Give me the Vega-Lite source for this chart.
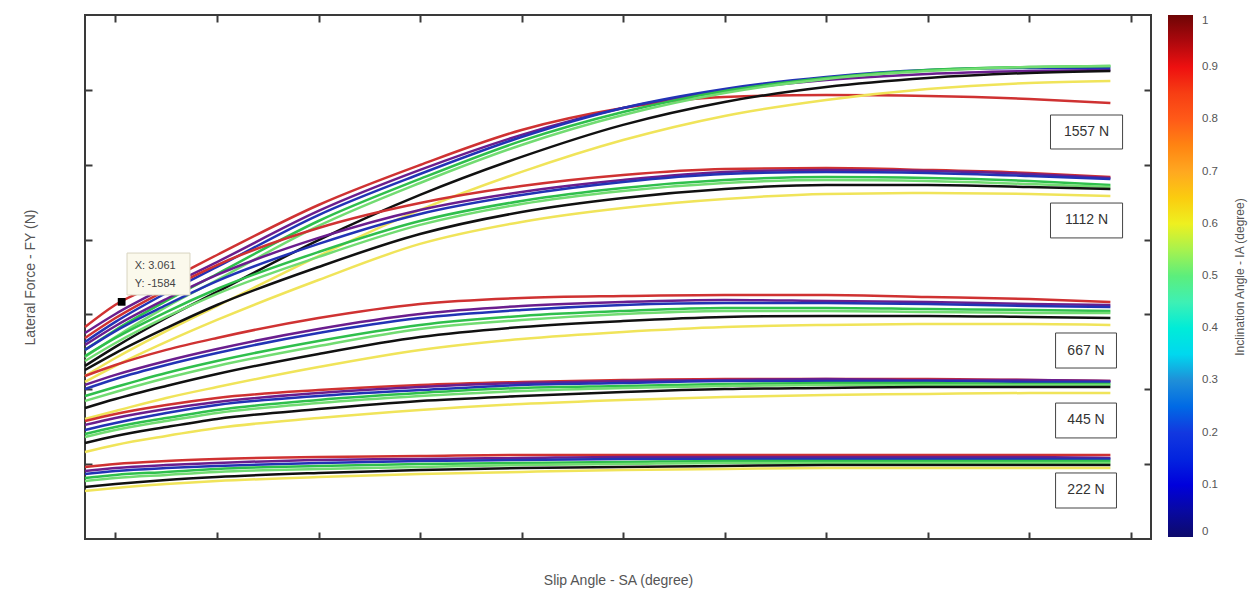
{
  "$schema": "https://vega.github.io/schema/vega-lite/v6.json",
  "width": 1066,
  "height": 524,
  "autosize": {"type": "none"},
  "padding": {"left": 85, "top": 15, "right": 99, "bottom": 51},
  "background": "white",
  "config": {
    "font": "Liberation Sans",
    "view": {"stroke": "#3a3a3a", "strokeWidth": 2},
    "axis": {
      "labels": false,
      "domain": false,
      "grid": false,
      "ticks": true,
      "tickSize": -7,
      "tickWidth": 2,
      "tickColor": "#3a3a3a",
      "titleFont": "Liberation Sans",
      "titleFontSize": 14,
      "titleFontWeight": "normal",
      "titleColor": "#555555"
    }
  },
  "datasets": {
    "curves": [
      {"load": 1557, "sa": 2.7, "red": -1416, "purple": -1376, "blue": -1316, "green1": -1263, "green2": -1216, "black": -1156, "yellow": -1089},
      {"load": 1557, "sa": 3, "red": -1565, "purple": -1503, "blue": -1450, "green1": -1396, "green2": -1349, "black": -1283, "yellow": -1209},
      {"load": 1557, "sa": 3.5, "red": -1723, "purple": -1683, "blue": -1643, "green1": -1590, "green2": -1550, "black": -1476, "yellow": -1389},
      {"load": 1557, "sa": 4, "red": -1897, "purple": -1850, "blue": -1817, "green1": -1770, "green2": -1730, "black": -1650, "yellow": -1556},
      {"load": 1557, "sa": 5, "red": -2231, "purple": -2191, "blue": -2164, "green1": -2124, "green2": -2091, "black": -1997, "yellow": -1890},
      {"load": 1557, "sa": 6, "red": -2498, "purple": -2465, "blue": -2438, "green1": -2405, "green2": -2378, "black": -2298, "yellow": -2198},
      {"load": 1557, "sa": 7, "red": -2732, "purple": -2699, "blue": -2685, "green1": -2659, "green2": -2632, "black": -2552, "yellow": -2452},
      {"load": 1557, "sa": 8, "red": -2879, "purple": -2879, "blue": -2879, "green1": -2852, "green2": -2832, "black": -2766, "yellow": -2665},
      {"load": 1557, "sa": 9, "red": -2953, "purple": -2993, "blue": -3006, "green1": -2993, "green2": -2979, "black": -2919, "yellow": -2826},
      {"load": 1557, "sa": 10, "red": -2966, "purple": -3066, "blue": -3086, "green1": -3079, "green2": -3073, "black": -3019, "yellow": -2933},
      {"load": 1557, "sa": 11, "red": -2959, "purple": -3106, "blue": -3133, "green1": -3133, "green2": -3126, "black": -3079, "yellow": -3006},
      {"load": 1557, "sa": 12, "red": -2939, "purple": -3126, "blue": -3146, "green1": -3153, "green2": -3153, "black": -3113, "yellow": -3046},
      {"load": 1557, "sa": 12.8, "red": -2912, "purple": -3133, "blue": -3146, "green1": -3160, "green2": -3160, "black": -3126, "yellow": -3059},

      {"load": 1112, "sa": 2.7, "red": -1343, "purple": -1296, "blue": -1263, "green1": -1222, "green2": -1189, "black": -1129, "yellow": -1049},
      {"load": 1112, "sa": 3, "red": -1476, "purple": -1423, "blue": -1389, "green1": -1343, "green2": -1309, "black": -1242, "yellow": -1156},
      {"load": 1112, "sa": 3.5, "red": -1663, "purple": -1603, "blue": -1563, "green1": -1516, "green2": -1483, "black": -1409, "yellow": -1316},
      {"load": 1112, "sa": 4, "red": -1830, "purple": -1764, "blue": -1723, "green1": -1670, "green2": -1637, "black": -1563, "yellow": -1463},
      {"load": 1112, "sa": 5, "red": -2077, "purple": -2011, "blue": -1971, "green1": -1917, "green2": -1884, "black": -1817, "yellow": -1730},
      {"load": 1112, "sa": 6, "red": -2244, "purple": -2198, "blue": -2171, "green1": -2124, "green2": -2098, "black": -2037, "yellow": -1971},
      {"load": 1112, "sa": 7, "red": -2358, "purple": -2318, "blue": -2298, "green1": -2258, "green2": -2238, "black": -2184, "yellow": -2118},
      {"load": 1112, "sa": 8, "red": -2432, "purple": -2398, "blue": -2385, "green1": -2345, "green2": -2325, "black": -2278, "yellow": -2211},
      {"load": 1112, "sa": 9, "red": -2472, "purple": -2452, "blue": -2438, "green1": -2398, "green2": -2378, "black": -2338, "yellow": -2271},
      {"load": 1112, "sa": 10, "red": -2478, "purple": -2465, "blue": -2452, "green1": -2418, "green2": -2398, "black": -2365, "yellow": -2305},
      {"load": 1112, "sa": 11, "red": -2465, "purple": -2458, "blue": -2445, "green1": -2411, "green2": -2391, "black": -2365, "yellow": -2311},
      {"load": 1112, "sa": 12, "red": -2445, "purple": -2438, "blue": -2425, "green1": -2391, "green2": -2371, "black": -2351, "yellow": -2305},
      {"load": 1112, "sa": 12.8, "red": -2418, "purple": -2411, "blue": -2405, "green1": -2365, "green2": -2351, "black": -2338, "yellow": -2291},

      {"load": 667, "sa": 2.7, "red": -1089, "purple": -1029, "blue": -1002, "green1": -955, "green2": -922, "black": -875, "yellow": -802},
      {"load": 667, "sa": 3, "red": -1162, "purple": -1096, "blue": -1069, "green1": -1015, "green2": -982, "black": -935, "yellow": -855},
      {"load": 667, "sa": 3.5, "red": -1263, "purple": -1189, "blue": -1162, "green1": -1109, "green2": -1075, "black": -1022, "yellow": -942},
      {"load": 667, "sa": 4, "red": -1343, "purple": -1269, "blue": -1242, "green1": -1189, "green2": -1156, "black": -1102, "yellow": -1015},
      {"load": 667, "sa": 5, "red": -1476, "purple": -1403, "blue": -1376, "green1": -1323, "green2": -1289, "black": -1236, "yellow": -1149},
      {"load": 667, "sa": 6, "red": -1570, "purple": -1503, "blue": -1476, "green1": -1430, "green2": -1403, "black": -1349, "yellow": -1263},
      {"load": 667, "sa": 7, "red": -1610, "purple": -1556, "blue": -1530, "green1": -1490, "green2": -1463, "black": -1416, "yellow": -1336},
      {"load": 667, "sa": 8, "red": -1623, "purple": -1583, "blue": -1563, "green1": -1523, "green2": -1503, "black": -1456, "yellow": -1383},
      {"load": 667, "sa": 9, "red": -1630, "purple": -1597, "blue": -1576, "green1": -1543, "green2": -1523, "black": -1483, "yellow": -1416},
      {"load": 667, "sa": 10, "red": -1630, "purple": -1590, "blue": -1576, "green1": -1543, "green2": -1523, "black": -1490, "yellow": -1430},
      {"load": 667, "sa": 11, "red": -1617, "purple": -1583, "blue": -1570, "green1": -1536, "green2": -1516, "black": -1490, "yellow": -1436},
      {"load": 667, "sa": 12, "red": -1603, "purple": -1570, "blue": -1556, "green1": -1530, "green2": -1510, "black": -1483, "yellow": -1436},
      {"load": 667, "sa": 12.8, "red": -1583, "purple": -1563, "blue": -1550, "green1": -1523, "green2": -1510, "black": -1476, "yellow": -1430},

      {"load": 445, "sa": 2.7, "red": -788, "purple": -762, "blue": -728, "green1": -701, "green2": -681, "black": -641, "yellow": -581},
      {"load": 445, "sa": 3, "red": -835, "purple": -808, "blue": -775, "green1": -748, "green2": -728, "black": -688, "yellow": -628},
      {"load": 445, "sa": 3.5, "red": -895, "purple": -868, "blue": -842, "green1": -808, "green2": -788, "black": -748, "yellow": -688},
      {"load": 445, "sa": 4, "red": -942, "purple": -915, "blue": -895, "green1": -862, "green2": -842, "black": -802, "yellow": -741},
      {"load": 445, "sa": 5, "red": -995, "purple": -975, "blue": -955, "green1": -929, "green2": -908, "black": -868, "yellow": -808},
      {"load": 445, "sa": 6, "red": -1029, "purple": -1015, "blue": -995, "green1": -975, "green2": -955, "black": -922, "yellow": -862},
      {"load": 445, "sa": 7, "red": -1049, "purple": -1042, "blue": -1029, "green1": -1009, "green2": -989, "black": -955, "yellow": -902},
      {"load": 445, "sa": 8, "red": -1062, "purple": -1055, "blue": -1042, "green1": -1022, "green2": -1009, "black": -982, "yellow": -929},
      {"load": 445, "sa": 9, "red": -1069, "purple": -1062, "blue": -1055, "green1": -1035, "green2": -1022, "black": -1002, "yellow": -949},
      {"load": 445, "sa": 10, "red": -1069, "purple": -1069, "blue": -1055, "green1": -1042, "green2": -1029, "black": -1009, "yellow": -962},
      {"load": 445, "sa": 11, "red": -1069, "purple": -1062, "blue": -1055, "green1": -1042, "green2": -1029, "black": -1015, "yellow": -969},
      {"load": 445, "sa": 12, "red": -1062, "purple": -1062, "blue": -1049, "green1": -1035, "green2": -1029, "black": -1015, "yellow": -975},
      {"load": 445, "sa": 12.8, "red": -1055, "purple": -1055, "blue": -1049, "green1": -1035, "green2": -1029, "black": -1015, "yellow": -975},

      {"load": 222, "sa": 2.7, "red": -481, "purple": -454, "blue": -434, "green1": -407, "green2": -387, "black": -347, "yellow": -321},
      {"load": 222, "sa": 3, "red": -501, "purple": -474, "blue": -454, "green1": -428, "green2": -407, "black": -367, "yellow": -341},
      {"load": 222, "sa": 3.5, "red": -521, "purple": -494, "blue": -474, "green1": -448, "green2": -428, "black": -394, "yellow": -367},
      {"load": 222, "sa": 4, "red": -534, "purple": -508, "blue": -488, "green1": -468, "green2": -448, "black": -414, "yellow": -387},
      {"load": 222, "sa": 5, "red": -548, "purple": -528, "blue": -508, "green1": -488, "green2": -468, "black": -441, "yellow": -414},
      {"load": 222, "sa": 6, "red": -554, "purple": -534, "blue": -521, "green1": -501, "green2": -481, "black": -461, "yellow": -434},
      {"load": 222, "sa": 7, "red": -561, "purple": -541, "blue": -528, "green1": -508, "green2": -494, "black": -474, "yellow": -448},
      {"load": 222, "sa": 8, "red": -561, "purple": -548, "blue": -534, "green1": -514, "green2": -501, "black": -481, "yellow": -461},
      {"load": 222, "sa": 9, "red": -561, "purple": -548, "blue": -534, "green1": -521, "green2": -508, "black": -488, "yellow": -468},
      {"load": 222, "sa": 10, "red": -561, "purple": -548, "blue": -534, "green1": -521, "green2": -508, "black": -494, "yellow": -474},
      {"load": 222, "sa": 11, "red": -561, "purple": -548, "blue": -534, "green1": -521, "green2": -508, "black": -494, "yellow": -474},
      {"load": 222, "sa": 12, "red": -561, "purple": -548, "blue": -534, "green1": -521, "green2": -508, "black": -494, "yellow": -474},
      {"load": 222, "sa": 12.8, "red": -561, "purple": -541, "blue": -534, "green1": -521, "green2": -508, "black": -494, "yellow": -474}
    ],
    "labels": [
      {"label": "1557 N", "x1": 12.21, "x2": 12.92, "y1": -2832, "y2": -2605, "tx": 12.565, "ty": -2719},
      {"label": "1112 N", "x1": 12.21, "x2": 12.92, "y1": -2244, "y2": -2011, "tx": 12.565, "ty": -2128},
      {"label": "667 N", "x1": 12.26, "x2": 12.86, "y1": -1376, "y2": -1142, "tx": 12.56, "ty": -1259},
      {"label": "445 N", "x1": 12.26, "x2": 12.86, "y1": -908, "y2": -675, "tx": 12.56, "ty": -792},
      {"label": "222 N", "x1": 12.26, "x2": 12.86, "y1": -441, "y2": -207, "tx": 12.56, "ty": -324}
    ],
    "tipbox": [{"x1": 3.114, "x2": 3.734, "y1": -1910, "y2": -1630}],
    "tiptext": [
      {"t": "X: 3.061", "x": 3.19, "y": -1824},
      {"t": "Y: -1584", "x": 3.19, "y": -1703}
    ],
    "tippoint": [{"sa": 3.061, "fy": -1584}],
    "colorbar": [{"v": 0}, {"v": 1}],
    "cbtitle": [{"t": "Inclination Angle - IA (degree)", "x": 14.08, "y": -1750}]
  },
  "resolve": {"axis": {"x": "independent", "y": "independent"}},
  "layer": [
    {
      "data": {"name": "curves"},
      "transform": [{"fold": ["red", "purple", "blue", "green1", "green2", "black", "yellow"], "as": ["ia", "fy"]}],
      "mark": {"type": "line", "interpolate": "monotone", "strokeWidth": 2.5},
      "encoding": {
        "x": {"field": "sa", "type": "quantitative", "scale": {"domain": [2.7, 13.2], "nice": false, "zero": false},
              "axis": {"orient": "bottom", "title": "Slip Angle - SA (degree)", "values": [3, 4, 5, 6, 7, 8, 9, 10, 11, 12, 13], "titlePadding": 33}},
        "y": {"field": "fy", "type": "quantitative", "scale": {"domain": [-3500, 0], "reverse": true, "nice": false, "zero": false},
              "axis": {"orient": "left", "title": "Lateral Force - FY (N)", "values": [-3000, -2500, -2000, -1500, -1000, -500], "titlePadding": 47}},
        "stroke": {"field": "ia", "type": "nominal",
                   "scale": {"domain": ["red", "purple", "blue", "green1", "green2", "black", "yellow"],
                             "range": ["#cf3232", "#6a1e8e", "#2233b5", "#2fbf4c", "#72dc72", "#111111", "#f0e45a"]},
                   "legend": null},
        "detail": {"field": "load", "type": "nominal"}
      }
    },
    {
      "data": {"name": "labels"},
      "mark": {"type": "rect", "fill": "white", "stroke": "#444444", "strokeWidth": 1},
      "encoding": {
        "x": {"field": "x1", "type": "quantitative", "axis": {"orient": "top", "title": null, "values": [3, 4, 5, 6, 7, 8, 9, 10, 11, 12, 13]}},
        "x2": {"field": "x2"},
        "y": {"field": "y1", "type": "quantitative", "axis": {"orient": "right", "title": null, "values": [-3000, -2500, -2000, -1500, -1000, -500]}},
        "y2": {"field": "y2"}
      }
    },
    {
      "data": {"name": "labels"},
      "mark": {"type": "text", "fontSize": 14, "color": "#333333", "align": "center", "baseline": "middle"},
      "encoding": {
        "x": {"field": "tx", "type": "quantitative", "axis": null},
        "y": {"field": "ty", "type": "quantitative", "axis": null},
        "text": {"field": "label"}
      }
    },
    {
      "data": {"name": "tipbox"},
      "mark": {"type": "rect", "fill": "#fbf9ec", "stroke": "#d8d4c0", "strokeWidth": 1},
      "encoding": {
        "x": {"field": "x1", "type": "quantitative", "axis": null},
        "x2": {"field": "x2"},
        "y": {"field": "y1", "type": "quantitative", "axis": null},
        "y2": {"field": "y2"}
      }
    },
    {
      "data": {"name": "tiptext"},
      "mark": {"type": "text", "fontSize": 11, "color": "#444444", "align": "left", "baseline": "middle"},
      "encoding": {
        "x": {"field": "x", "type": "quantitative", "axis": null},
        "y": {"field": "y", "type": "quantitative", "axis": null},
        "text": {"field": "t"}
      }
    },
    {
      "data": {"name": "tippoint"},
      "mark": {"type": "square", "size": 60, "filled": true, "color": "#000000", "opacity": 1},
      "encoding": {
        "x": {"field": "sa", "type": "quantitative", "axis": null},
        "y": {"field": "fy", "type": "quantitative", "axis": null}
      }
    },
    {
      "data": {"name": "cbtitle"},
      "mark": {"type": "text", "fontSize": 12, "color": "#555555", "align": "center", "baseline": "middle", "angle": 270, "clip": false},
      "encoding": {
        "x": {"field": "x", "type": "quantitative", "axis": null},
        "y": {"field": "y", "type": "quantitative", "axis": null},
        "text": {"field": "t"}
      }
    },
    {
      "data": {"name": "colorbar"},
      "mark": {"type": "point", "opacity": 0},
      "encoding": {
        "fill": {"field": "v", "type": "quantitative",
                 "scale": {"domain": [0, 0.1, 0.2, 0.3, 0.36, 0.45, 0.5, 0.6, 0.7, 0.8, 0.9, 1],
                           "range": ["#0d0a6b", "#0000dc", "#1238e0", "#1f8fd8", "#00e6ee", "#3ef0b4", "#5cee7c", "#eef020", "#ffa820", "#ff5a18", "#ee1010", "#6e0505"]},
                 "legend": {"orient": "none", "legendX": 1083, "legendY": 0, "direction": "vertical",
                            "gradientLength": 522, "gradientThickness": 25, "gradientStrokeWidth": 0,
                            "values": [0, 0.1, 0.2, 0.3, 0.4, 0.5, 0.6, 0.7, 0.8, 0.9, 1], "format": ".1~f",
                            "labelFontSize": 11.5, "labelColor": "#555555", "labelOffset": 9, "labelFont": "Liberation Sans",
                            "title": null}}
      }
    }
  ]
}
